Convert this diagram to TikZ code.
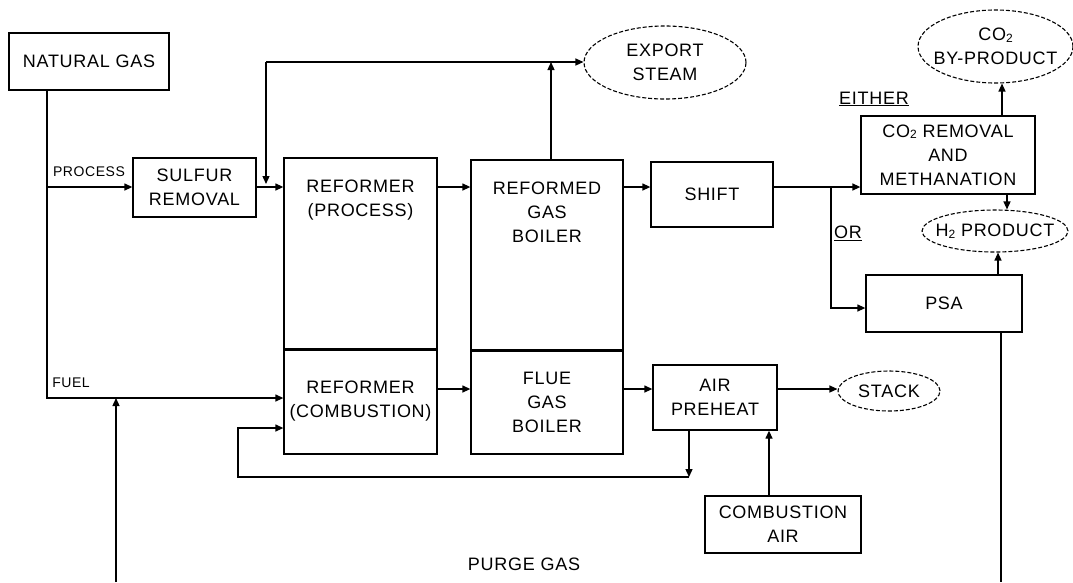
\documentclass[tikz,border=0pt]{standalone}
\usepackage{fontspec}
\setmainfont[LetterSpace=4]{Liberation Sans}
\usetikzlibrary{shapes.geometric,arrows.meta}
\newcommand\mainf{\fontsize{18}{24}\selectfont}
\newcommand\smallf{\fontsize{14}{16}\selectfont}
\newcommand\subtwo{\raisebox{-1.5pt}{\fontsize{12}{12}\selectfont 2}}
\tikzset{
  box/.style={draw, line width=1.3pt, inner sep=0pt, align=center, font=\mainf},
  oval/.style={draw, ellipse, dash pattern=on 4pt off 2pt, line width=1.1pt, inner sep=0pt},
  arr/.style={line width=1.3pt, -{Triangle[length=8pt,width=7pt]}},
  plain/.style={line width=1.3pt},
  sep/.style={line width=3.5pt},
  lbl/.style={font=\mainf, align=center},
  smalllbl/.style={font=\smallf},
  every label/.style={font=\mainf, align=center}
}
\begin{document}
\begin{tikzpicture}[x=1pt,y=-1pt]
\useasboundingbox (0,0) rectangle (1073,582);
\fill[white] (0,0) rectangle (1073,582);

% boxes
\node[box, minimum width=160pt, minimum height=57pt] (ng) at (89,61.5) {NATURAL GAS};
\node[box, minimum width=123pt, minimum height=59pt] (sr) at (194.5,187.5) {SULFUR\\REMOVAL};
\node[box, minimum width=153pt, minimum height=191pt, label={[yshift=53.5pt]center:REFORMER\\(PROCESS)}] (rp) at (360.5,253.5) {};
\node[box, minimum width=153pt, minimum height=105pt] (rc) at (360.5,401.5) {REFORMER\\(COMBUSTION)};
\node[box, minimum width=152pt, minimum height=190pt, label={[yshift=43pt]center:REFORMED\\GAS\\BOILER}] (rgb) at (547,255) {};
\node[box, minimum width=152pt, minimum height=104pt] (fgb) at (547,402) {FLUE\\GAS\\BOILER};
\node[box, minimum width=122pt, minimum height=65pt] (shift) at (712,194.5) {SHIFT};
\node[box, minimum width=124pt, minimum height=65pt] (ap) at (715,397.5) {AIR\\PREHEAT};
\node[box, minimum width=156pt, minimum height=57pt] (ca) at (783,524.5) {COMBUSTION\\AIR};
\node[box, minimum width=174pt, minimum height=78pt] (co2) at (948,155) {CO\subtwo{} REMOVAL\\AND\\METHANATION};
\node[box, minimum width=156pt, minimum height=57pt] (psa) at (944,303.5) {PSA};

% thick separators
\draw[sep] (rp.south west) -- (rp.south east);
\draw[sep] (rgb.south west) -- (rgb.south east);

% ellipses
\node[oval, minimum width=162pt, minimum height=73pt, label={center:EXPORT\\STEAM}] (es) at (665,62.5) {};
\node[oval, minimum width=155pt, minimum height=73pt, label={center:CO\subtwo\\BY-PRODUCT}] (byp) at (995.5,46.5) {};
\node[oval, minimum width=146pt, minimum height=42pt, label={center:H\subtwo{} PRODUCT}] (h2) at (995,231) {};
\node[oval, minimum width=102pt, minimum height=40pt, label={center:STACK}] (stack) at (889,391) {};

% labels
\node[smalllbl] (lp) at (89,172) {PROCESS};
\node[smalllbl] (lf) at (71,383) {FUEL};
\node[lbl] (le) at (874,99) {\underline{EITHER}};
\node[lbl] (lo) at (848,233) {\underline{OR}};
\node[lbl] (lpg) at (524,564) {PURGE GAS};

% junction coordinates
\coordinate (jp) at (47,187);
\coordinate (jf) at (47,398);
\coordinate (st) at (266,62);
\coordinate (jb) at (831,187);
\coordinate (rr) at (689,477);
\coordinate (rl) at (238,477);
\coordinate (pl) at (116,582);
\coordinate (pb) at (1001,582);
\coordinate (ly) at (0,389);

% natural gas feed
\draw[arr] (ng.south -| jp) -- (jf) -- (jf -| rc.west);
\draw[arr] (jp) -- (sr.west |- jp);
\draw[arr] (sr.east |- jp) -- (rp.west |- jp);

% steam
\draw[arr] (st) -- ([yshift=3pt]st |- jp);
\draw[arr] (st) -- (es.west |- st);
\draw[arr] ([xshift=4pt]rgb.north) -- ([xshift=4pt]rgb.north |- st);

% process gas train
\draw[arr] (rp.east |- jp) -- (rgb.west |- jp);
\draw[arr] (rgb.east |- jp) -- (shift.west |- jp);
\draw[arr] (shift.east |- jp) -- (co2.west |- jp);
\draw[arr] (jb) |- ([yshift=-4.5pt]psa.west);
\draw[arr] ([xshift=54pt]co2.north) -- ([xshift=54pt]co2.north |- byp.south);
\draw[arr] ([xshift=59pt]co2.south) -- ([xshift=59pt]co2.south |- h2.north);
\draw[arr] ([xshift=54pt]psa.north) -- ([xshift=54pt]psa.north |- h2.south);

% purge gas
\draw[plain] (psa.south -| pb) -- (pb);
\draw[arr] (pl) -- (pl |- jf);

% flue gas train
\draw[arr] (rc.east |- ly) -- (fgb.west |- ly);
\draw[arr] (fgb.east |- ly) -- (ap.west |- ly);
\draw[arr] (ap.east |- ly) -- (stack.west |- ly);
\draw[arr] (ap.south -| rr) -- (rr);
\draw[arr] (rr) -- (rl) |- ([yshift=-26.5pt]rc.west);
\draw[arr] ([xshift=-14pt]ca.north) -- ([xshift=-14pt]ca.north |- ap.south);
\end{tikzpicture}
\end{document}
